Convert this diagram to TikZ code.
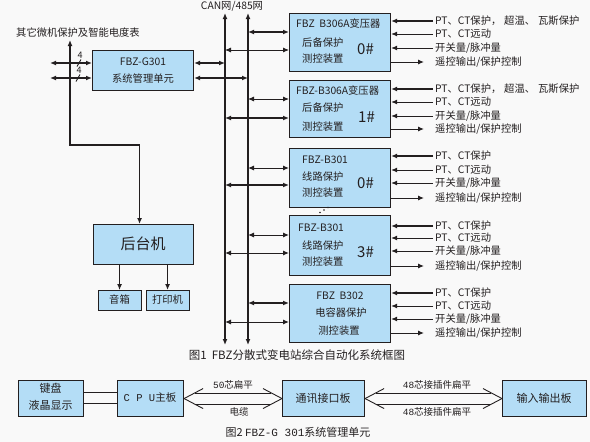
\documentclass[tikz,border=0pt]{standalone}
\usepackage{fontspec}
\setmainfont{Noto Sans CJK SC}
\newfontfamily\mono{Liberation Mono}
\usetikzlibrary{arrows.meta}
\definecolor{boxblue}{RGB}{180,221,246}
\definecolor{ink}{RGB}{35,31,32}
\definecolor{bg}{RGB}{249,249,249}
\newcommand{\longsig}{\makebox[69pt][l]{PT、CT保护，}\makebox[34pt][l]{超温、}瓦斯保护}
\begin{document}
\begin{tikzpicture}[x=1pt,y=-1pt,
  box/.style={draw=ink,line width=1.1pt,fill=boxblue,inner sep=0pt,anchor=north west},
  lbl/.style={font=\fontsize{10.3}{12}\selectfont,inner sep=0pt,anchor=west,text=ink},
  txt/.style={font=\fontsize{10.3}{12}\selectfont,inner sep=0pt,text=ink},
  big/.style={font=\fontsize{15}{16}\selectfont,inner sep=0pt,text=ink},
  arr/.style={-{Latex[length=6pt,width=5pt]},line width=1pt,draw=ink},
  darr/.style={{Latex[length=6pt,width=5pt]}-{Latex[length=6pt,width=5pt]},line width=1pt,draw=ink},
  thin/.style={line width=0.9pt,draw=ink},
]
\fill[bg] (0,0) rectangle (590,442);
\useasboundingbox (0,0) rectangle (590,442);

% ---------- Figure 1 ----------
\node[txt,anchor=center] (canlbl) at (232,6) {CAN网/485网};
\coordinate (busAtop) at (225,13);
\coordinate (busAbot) at (225,345);
\coordinate (busBtop) at (248,13);
\coordinate (busBbot) at (248,345);
\draw[darr,line width=2pt] (busAtop) -- (busAbot);
\draw[darr,line width=1.3pt] (busBtop) -- (busBbot);

% system management unit
\node[box,minimum width=101pt,minimum height=40pt] (g301) at (92,50) {};
\node[txt] (g301a) at (143,62) {FBZ-G301};
\node[txt] (g301b) at (143,79) {系统管理单元};

\node[lbl] (other) at (16,33) {其它微机保护及智能电度表};
\coordinate (vtop) at (70,40);
\coordinate (vcorner) at (70,145);
\coordinate (in1) at (50,63);
\coordinate (in2) at (50,78);

% back-end computer
\node[box,minimum width=100pt,minimum height=40pt] (htj) at (93,224) {};
\node[big] (htjt) at (143,244) {后台机};
\node[box,minimum width=43pt,minimum height=20pt] (yx) at (98,290) {};
\node[txt] (yxt) at (119.5,300) {音箱};
\node[box,minimum width=43pt,minimum height=20pt] (dyj) at (146,290) {};
\node[txt] (dyjt) at (167.5,300) {打印机};

\draw[darr,line width=1.5pt] (vtop) -- (vcorner) -| ([xshift=-4pt]htj.north);
\draw[darr,line width=1.5pt] (in1) -- (g301.west |- in1);
\draw[darr,line width=1.5pt] (in2) -- (g301.west |- in2);
\draw[thin] (77,66.5) -- (81,59.5);
\draw[thin] (76,81.5) -- (80,74.5);
\node[inner sep=0pt,font=\fontsize{9}{10}\selectfont,text=ink] (n4a) at (80,55) {4};
\node[inner sep=0pt,font=\fontsize{9}{10}\selectfont,text=ink] (n4b) at (79,70) {4};
\draw[darr,line width=1.3pt] (g301.east |- in1) -- (busAtop |- in1);
\draw[darr,line width=1.5pt] (g301.east |- in2) -- (busBtop |- in2);

\draw[arr] ([xshift=-24pt]htj.south) -- ([xshift=-24pt]htj.south |- yx.north);
\draw[arr,line width=1.6pt] ([xshift=24pt]htj.south) -- ([xshift=24pt]htj.south |- dyj.north);

% protection boxes
\node[box,minimum width=101pt,minimum height=58pt] (b0) at (289,13) {};
\node[box,minimum width=101pt,minimum height=57pt] (b1) at (289,80) {};
\node[box,minimum width=101pt,minimum height=59pt] (b2) at (289,148) {};
\node[box,minimum width=101pt,minimum height=60pt] (b3) at (289,215) {};
\node[box,minimum width=101pt,minimum height=58pt] (b4) at (289,284) {};

\node[lbl] (b0a) at (296,24) {FBZ\ \ B306A变压器};
\node[lbl] (b0b) at (302,43) {后备保护};
\node[lbl] (b0c) at (302,59) {测控装置};
\node[big,anchor=west] (b0d) at (357,49) {0\#};

\node[lbl] (b1a) at (296,91) {FBZ-B306A变压器};
\node[lbl] (b1b) at (302,108) {后备保护};
\node[lbl] (b1c) at (302,127) {测控装置};
\node[big,anchor=west] (b1d) at (358,117) {1\#};

\node[lbl] (b2a) at (302,160) {FBZ-B301};
\node[lbl] (b2b) at (302,177) {线路保护};
\node[lbl] (b2c) at (302,193) {测控装置};
\node[big,anchor=west] (b2d) at (357,183) {0\#};

\node[lbl] (b3a) at (298,228) {FBZ-B301};
\node[lbl] (b3b) at (302,246) {线路保护};
\node[lbl] (b3c) at (302,262) {测控装置};
\node[big,anchor=west] (b3d) at (357,252) {3\#};

\node[txt] (b4a) at (340,296) {FBZ\ \ B302};
\node[txt] (b4b) at (341,313) {电容器保护};
\node[txt] (b4c) at (339,331) {测控装置};

% dots between 0# and 3#
\fill[ink] (320,212.5) circle (0.9);
\fill[ink] (324,210) circle (0.9);
\fill[ink] (328,207.5) circle (0.9);

% bus taps
\foreach \b/\yb/\ya/\wb/\wa in {b0/32/50/1.5/0.8, b1/99/118/0.9/1.5, b2/168/185/1/1.5, b3/235/253/1/1, b4/303/322/1.5/1}{
  \coordinate (\b-tb) at (248,\yb);
  \coordinate (\b-ta) at (225,\ya);
  \draw[darr,line width=\wb pt] (\b-tb) -- (\b.west |- \b-tb);
  \draw[darr,line width=\wa pt] (\b-ta) -- (\b.west |- \b-ta);
}

% signals on the right
\foreach \b/\ya/\yb/\yc/\yd/\t in {
  b0/21/34/48/62/\longsig,
  b1/89/102/116/129/\longsig,
  b2/156/170/183/198/PT、CT保护,
  b3/226/238/251/266/PT、CT保护,
  b4/293/306/319/333/PT、CT保护}{
  \node[lbl] (\b-i1) at (435,\ya) {\t};
  \node[lbl] (\b-i2) at (435,\yb) {PT、CT远动};
  \node[lbl] (\b-i3) at (435,\yc) {开关量/脉冲量};
  \node[lbl] (\b-o) at (435,\yd) {遥控输出/保护控制};
  \draw[arr,line width=1.3pt] ([xshift=-2pt]\b-i1.west) -- (\b.east |- \b-i1.west);
  \draw[arr] ([xshift=-2pt]\b-i2.west) -- (\b.east |- \b-i2.west);
  \draw[arr] ([xshift=-2pt]\b-i3.west) -- (\b.east |- \b-i3.west);
  \draw[arr] (\b.east |- \b-o.west) -- ([xshift=-11pt]\b-o.west);
}

\node[inner sep=0pt,font=\fontsize{11.5}{13}\selectfont,text=ink] (cap1) at (297,355) {图1\ \ FBZ分散式变电站综合自动化系统框图};

% ---------- Figure 2 ----------
\node[box,minimum width=65pt,minimum height=36pt] (kb) at (18,380) {};
\node[txt,font=\fontsize{11}{12}\selectfont] (kbt1) at (50.5,388) {键盘};
\node[txt,font=\fontsize{11}{12}\selectfont] (kbt2) at (50.5,405) {液晶显示};
\node[box,minimum width=66pt,minimum height=36pt] (cpu) at (117,380) {};
\node[txt,font=\fontsize{10.5}{12}\selectfont] (cput) at (150,398) {{\mono C P U}主板};
\node[box,minimum width=82pt,minimum height=36pt] (txb) at (282,380) {};
\node[txt,font=\fontsize{11}{12}\selectfont] (txbt) at (323,398) {通讯接口板};
\node[box,minimum width=84pt,minimum height=36pt] (io) at (502,380) {};
\node[txt,font=\fontsize{11}{12}\selectfont] (iot) at (544,398) {输入输出板};

\draw[thin] ([yshift=-5pt]kb.east) -- ([yshift=-5pt]cpu.west);
\draw[thin] ([yshift=6pt]kb.east) -- ([yshift=6pt]cpu.west);

% hollow double arrows
\foreach \l/\r in {cpu/txb, txb/io}{
  \draw[thin] (\l.east) -- ++(19,-10);
  \draw[thin] (\l.east) -- ++(19,10);
  \draw[thin] (\r.west) -- ++(-19,-10);
  \draw[thin] (\r.west) -- ++(-19,10);
  \draw[thin] ([shift={(11,-5.5)}]\l.east) -- ([shift={(-11,-5.5)}]\r.west);
  \draw[thin] ([shift={(11,5.5)}]\l.east) -- ([shift={(-11,5.5)}]\r.west);
}
\node[txt,font=\fontsize{9.5}{11}\selectfont] (c50) at (233,385) {{\mono 50}芯扁平};
\node[txt,font=\fontsize{9.5}{11}\selectfont] (cdl) at (239,412) {电缆};
\node[txt,font=\fontsize{9.5}{11}\selectfont] (c48a) at (437,385) {{\mono 48}芯接插件扁平};
\node[txt,font=\fontsize{9.5}{11}\selectfont] (c48b) at (437,412) {{\mono 48}芯接插件扁平};

\node[inner sep=0pt,font=\fontsize{11}{13}\selectfont,text=ink] (cap2) at (298,432) {图2 {\mono FBZ-G 301}系统管理单元};
\end{tikzpicture}
\end{document}
